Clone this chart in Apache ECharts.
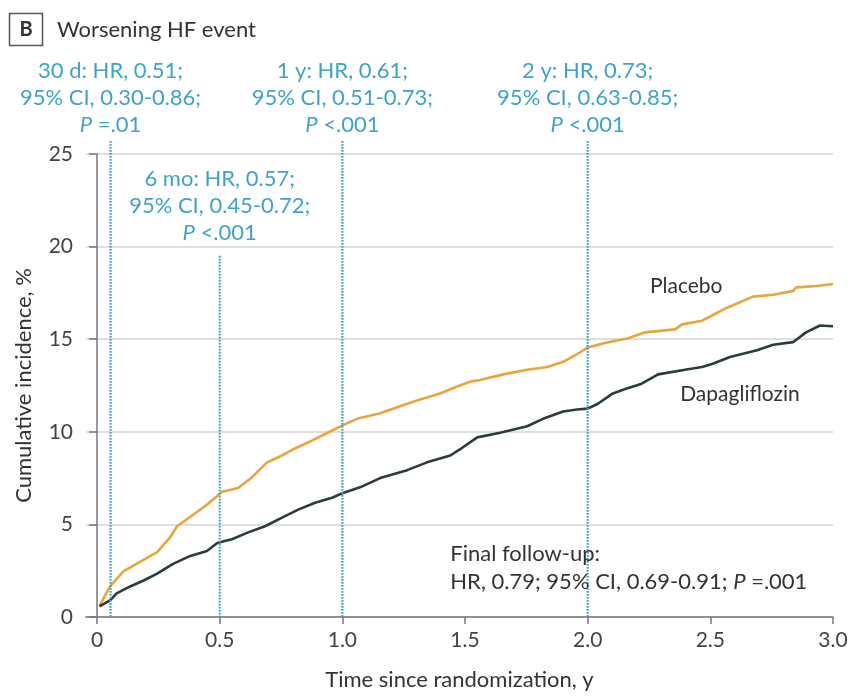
<!DOCTYPE html>
<html>
<head>
<meta charset="utf-8">
<script src="https://cdn.jsdelivr.net/npm/echarts@6/dist/echarts.min.js"></script>
<style>
  html, body { margin: 0; padding: 0; background: #fff; }
  #chart { width: 851px; height: 696px; }
</style>
</head>
<body>
<div id="chart"></div>
<script>
// Cumulative incidence of worsening HF event, by treatment arm
const placeboT = [0.01, 0.053, 0.106, 0.175, 0.245, 0.298, 0.326, 0.379, 0.448, 0.51, 0.575, 0.632, 0.693, 0.754, 0.807, 0.876, 0.94, 1.0, 1.06, 1.154, 1.235, 1.317, 1.398, 1.468, 1.52, 1.561, 1.655, 1.753, 1.835, 1.9, 1.957, 2.0, 2.07, 2.165, 2.234, 2.356, 2.385, 2.466, 2.507, 2.568, 2.674, 2.756, 2.837, 2.85, 2.935, 3.0];
const placeboV = [0.6, 1.65, 2.45, 2.98, 3.5, 4.3, 4.9, 5.4, 6.06, 6.76, 6.97, 7.55, 8.35, 8.72, 9.1, 9.52, 9.95, 10.35, 10.7, 11.0, 11.38, 11.75, 12.07, 12.45, 12.7, 12.8, 13.1, 13.35, 13.5, 13.78, 14.2, 14.55, 14.8, 15.05, 15.37, 15.53, 15.8, 16.0, 16.28, 16.7, 17.3, 17.4, 17.6, 17.8, 17.87, 17.98];

const dapaT = [0.01, 0.053, 0.08, 0.135, 0.19, 0.245, 0.31, 0.38, 0.448, 0.49, 0.52, 0.55, 0.616, 0.685, 0.754, 0.82, 0.889, 0.958, 1.003, 1.072, 1.154, 1.264, 1.345, 1.44, 1.49, 1.55, 1.643, 1.753, 1.818, 1.9, 1.957, 2.0, 2.04, 2.1, 2.15, 2.22, 2.287, 2.397, 2.466, 2.51, 2.58, 2.69, 2.756, 2.837, 2.89, 2.947, 3.0];
const dapaV = [0.58, 0.9, 1.28, 1.65, 1.97, 2.34, 2.87, 3.3, 3.56, 4.0, 4.1, 4.2, 4.57, 4.9, 5.37, 5.8, 6.17, 6.44, 6.7, 7.0, 7.5, 7.93, 8.35, 8.72, 9.15, 9.7, 9.95, 10.3, 10.7, 11.1, 11.2, 11.25, 11.5, 12.05, 12.3, 12.6, 13.1, 13.35, 13.5, 13.67, 14.04, 14.4, 14.7, 14.84, 15.37, 15.74, 15.7];

// Landmark time points with hazard ratio annotations
const landmarkT = [0.055, 0.5, 1.0, 2.0];
const landmarkTop = [25.7, 19.5, 25.7, 25.7];
const landmarkText = [
  '30 d: HR, 0.51;\n95% CI, 0.30-0.86;\n{i|P} =.01',
  '6 mo: HR, 0.57;\n95% CI, 0.45-0.72;\n{i|P} <.001',
  '1 y: HR, 0.61;\n95% CI, 0.51-0.73;\n{i|P} <.001',
  '2 y: HR, 0.73;\n95% CI, 0.63-0.85;\n{i|P} <.001'
];

// Free-standing notes on the plot
const noteT = [2.254, 2.377, 1.44];
const noteV = [17.87, 12.02, 2.66];
const noteText = ['Placebo', 'Dapagliflozin', 'Final follow-up:\nHR, 0.79; 95% CI, 0.69-0.91; {i|P} =.001'];

const xTicks = [0, 0.5, 1.0, 1.5, 2.0, 2.5, 3.0];

const FONT = 'Lato, "Noto Sans", sans-serif';
const TEAL = '#3ea4c6';
const ORANGE = '#eaa43a';
const DARK = '#2b3b40';
const TEXT = '#333';

const chart = echarts.init(document.getElementById('chart'), null, { renderer: 'canvas' });

function zip(a, b) { return a.map((v, i) => [v, b[i]]); }

const option = {
  animation: false,
  backgroundColor: '#fff',
  grid: { left: 86, right: 18, top: 154, bottom: 72, containLabel: false },
  xAxis: {
    type: 'value',
    min: -0.045,
    max: 3.0,
    name: 'Time since randomization, y',
    nameLocation: 'middle',
    nameGap: 52,
    nameTextStyle: { fontFamily: FONT, fontSize: 22, color: TEXT },
    axisLine: { lineStyle: { color: '#777', width: 1.5 } },
    axisTick: { customValues: xTicks, length: 7, lineStyle: { color: '#777', width: 1.5 } },
    axisLabel: {
      customValues: xTicks,
      margin: 13,
      fontFamily: FONT, fontSize: 21, color: '#444',
      formatter: v => (v === 0 ? '0' : v.toFixed(1))
    },
    splitLine: { show: false }
  },
  yAxis: {
    type: 'value',
    min: 0, max: 25, interval: 5,
    name: 'Cumulative incidence, %',
    nameLocation: 'middle',
    nameGap: 51,
    nameTextStyle: { fontFamily: FONT, fontSize: 22, color: TEXT },
    axisLine: { show: true, lineStyle: { color: '#777', width: 1.5 } },
    axisTick: { show: true, length: 8, lineStyle: { color: '#777', width: 1.5 } },
    axisLabel: { margin: 13, fontFamily: FONT, fontSize: 21, color: '#444' },
    splitLine: { show: true, lineStyle: { color: '#d4d4d4', width: 1.5 } }
  },
  graphic: [
    { type: 'rect', shape: { x: 9.5, y: 13.5, width: 33, height: 32 },
      style: { fill: '#fff', stroke: '#555', lineWidth: 1.5 } },
    { type: 'text', x: 26, y: 30,
      style: { text: 'B', align: 'center', verticalAlign: 'middle', fontFamily: FONT, fontSize: 20, fontWeight: 'bold', fill: '#333' } },
    { type: 'text', x: 57, y: 30,
      style: { text: 'Worsening HF event', align: 'left', verticalAlign: 'middle', fontFamily: FONT, fontSize: 22, fill: '#333' } }
  ],
  series: [
    {
      name: 'Placebo', type: 'line', data: zip(placeboT, placeboV),
      showSymbol: false, symbol: 'none',
      lineStyle: { color: ORANGE, width: 2.6 }, z: 3
    },
    {
      name: 'Dapagliflozin', type: 'line', data: zip(dapaT, dapaV),
      showSymbol: false, symbol: 'none',
      lineStyle: { color: DARK, width: 2.6 }, z: 3
    },
    {
      // dotted landmark lines with their annotations
      name: 'landmarks', type: 'custom', clip: false, silent: true, z: 4,
      data: zip(landmarkT, landmarkTop),
      renderItem: function (params, api) {
        const t = api.value(0), top = api.value(1);
        const p0 = api.coord([t, top]);
        const p1 = api.coord([t, 0]);
        // annotations inside the plot area sit a little higher above their line
        const gap = top < 25 ? 9 : 3;
        return {
          type: 'group',
          children: [
            { type: 'line', shape: { x1: p0[0], y1: p0[1], x2: p1[0], y2: p1[1] },
              style: { stroke: TEAL, lineWidth: 2.2, lineDash: [1.6, 1.4] } },
            { type: 'text', x: p0[0], y: p0[1] - gap,
              style: {
                text: landmarkText[params.dataIndex],
                align: 'center', verticalAlign: 'bottom',
                fontFamily: FONT, fontSize: 22, lineHeight: 27, fill: TEAL,
                rich: { i: { fontStyle: 'italic', fontFamily: FONT, fontSize: 22, fill: TEAL } }
              } }
          ]
        };
      }
    },
    {
      name: 'notes', type: 'custom', clip: false, silent: true, z: 5,
      data: zip(noteT, noteV),
      renderItem: function (params, api) {
        const p = api.coord([api.value(0), api.value(1)]);
        const size = params.dataIndex === 2 ? 22 : 21;
        return {
          type: 'text', x: p[0], y: p[1],
          style: {
            text: noteText[params.dataIndex],
            align: 'left', verticalAlign: 'middle',
            fontFamily: FONT, fontSize: size, lineHeight: 28, fill: TEXT,
            rich: { i: { fontStyle: 'italic', fontFamily: FONT, fontSize: size, fill: TEXT } }
          }
        };
      }
    }
  ]
};

chart.setOption(option);
</script>
</body>
</html>
